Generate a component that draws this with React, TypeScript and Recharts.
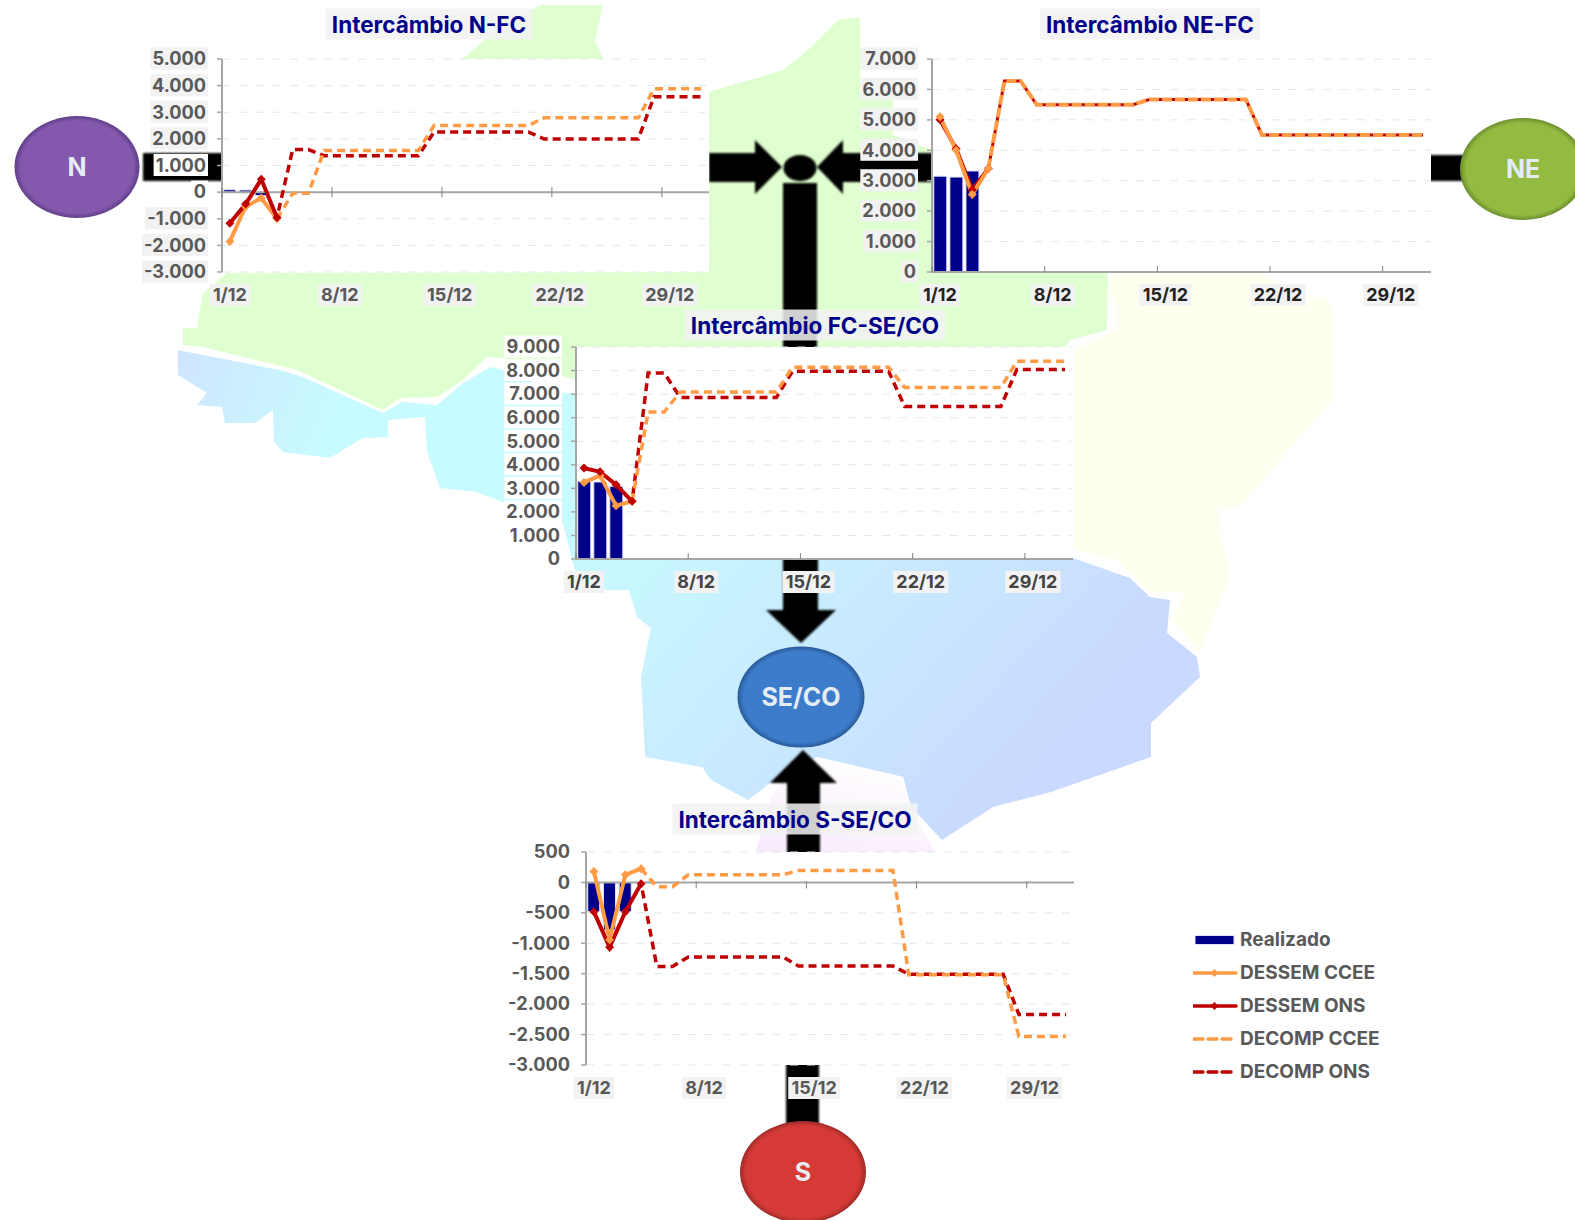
import { Bar, CartesianGrid, ComposedChart, Line, ReferenceLine, XAxis, YAxis } from "recharts"

const days = [
  "1/12", "2/12", "3/12", "4/12", "5/12", "6/12", "7/12", "8/12", "9/12", "10/12", "11/12",
  "12/12", "13/12", "14/12", "15/12", "16/12", "17/12", "18/12", "19/12", "20/12", "21/12",
  "22/12", "23/12", "24/12", "25/12", "26/12", "27/12", "28/12", "29/12", "30/12", "31/12",
]

const _ = null

// Intercambio N-FC
const nfcRealizado = [90, 80, -130]
const nfcDessemCcee = [-1850, -550, -220, -1000]
const nfcDessemOns = [-1170, -450, 480, -950]
const nfcDecompCcee = [_, _, _, -1000, -40, -40, 1560, 1560, 1560, 1560, 1560, 1560, 1560, 2500, 2500, 2500, 2500, 2500, 2500, 2500, 2790, 2790, 2790, 2790, 2790, 2790, 2790, 3880, 3880, 3880, 3880]
const nfcDecompOns = [_, _, _, -950, 1600, 1600, 1370, 1370, 1370, 1370, 1370, 1370, 1370, 2260, 2260, 2260, 2260, 2260, 2260, 2260, 2000, 2000, 2000, 2000, 2000, 2000, 2000, 3580, 3580, 3580, 3580]

// Intercambio NE-FC
const nefRealizado = [3150, 3120, 3320]
const nefDessemCcee = [5100, 4000, 2550, 3400]
const nefDessemOns = [5000, 4050, 2700, 3400]
const nefDecompCcee = [_, _, _, 3400, 6280, 6280, 5500, 5500, 5500, 5500, 5500, 5500, 5500, 5670, 5670, 5670, 5670, 5670, 5670, 5670, 4500, 4500, 4500, 4500, 4500, 4500, 4500, 4500, 4500, 4500, 4500]
const nefDecompOns = [_, _, _, 3400, 6280, 6280, 5500, 5500, 5500, 5500, 5500, 5500, 5500, 5670, 5670, 5670, 5670, 5670, 5670, 5670, 4500, 4500, 4500, 4500, 4500, 4500, 4500, 4500, 4500, 4500, 4500]

// Intercambio FC-SE/CO
const fcsRealizado = [3300, 3270, 3090]
const fcsDessemCcee = [3250, 3540, 2260, 2450]
const fcsDessemOns = [3860, 3700, 3150, 2450]
const fcsDecompCcee = [_, _, _, 2450, 6240, 6240, 7090, 7090, 7090, 7090, 7090, 7090, 7090, 8140, 8140, 8140, 8140, 8140, 8140, 8140, 7285, 7285, 7285, 7285, 7285, 7285, 7285, 8390, 8390, 8390, 8390]
const fcsDecompOns = [_, _, _, 2450, 7900, 7900, 6860, 6860, 6860, 6860, 6860, 6860, 6860, 7970, 7970, 7970, 7970, 7970, 7970, 7970, 6475, 6475, 6475, 6475, 6475, 6475, 6475, 8050, 8050, 8050, 8050]

// Intercambio S-SE/CO
const sseRealizado = [-480, -780, -480]
const sseDessemCcee = [180, -940, 125, 225]
const sseDessemOns = [-480, -1065, -480, -20]
const sseDecompCcee = [_, _, _, 225, -70, -70, 125, 125, 125, 125, 125, 125, 125, 195, 195, 195, 195, 195, 195, 195, -1515, -1515, -1515, -1515, -1515, -1515, -1515, -2530, -2530, -2530, -2530]
const sseDecompOns = [_, _, _, -20, -1380, -1380, -1225, -1225, -1225, -1225, -1225, -1225, -1225, -1375, -1375, -1375, -1375, -1375, -1375, -1375, -1508, -1508, -1508, -1508, -1508, -1508, -1508, -2170, -2170, -2170, -2170]

const NAVY = "#00008b"
const ORANGE = "#ff9a45"
const RED = "#c00000"
const GREY = "#595959"
const AXIS = "#a6a6a6"
const FONT = "Inter, sans-serif"
const PAD_TOP = 20

const rows = (r: any[], dc: any[], dn: any[], cc: any[], cn: any[]) =>
  days.map((day, i) => ({
    day,
    realizado: r[i] ?? null,
    dessemCcee: dc[i] ?? null,
    dessemOns: dn[i] ?? null,
    decompCcee: cc[i] ?? null,
    decompOns: cn[i] ?? null,
  }))

const fmt = (v: number) => String(v).replace(/(\d)(\d{3})$/, "$1.$2")

// rough label width, only used for the grey box behind each tick text
const labelWidth = (s: string) => {
  let w = 0
  for (const c of s) w += c === "." ? 5.5 : c === "/" ? 7.5 : c === "-" ? 8.5 : c === "1" ? 8.5 : 11.8
  return w
}

function Diamond(props: any) {
  const { cx, cy, fill, index } = props
  if (cx == null || cy == null) return <g key={index} />
  return <path key={index} d={`M${cx - 4.5} ${cy}L${cx} ${cy - 4.5}L${cx + 4.5} ${cy}L${cx} ${cy + 4.5}Z`} fill={fill} />
}

function Panel({ config }: { config: any }) {
  const { left, top, width, height, min, max, ticks, data, yBg, xColor, tickUp, tickDown, whiteLabels, cceeDash, cceeWidth, onsWidth, cceeOnTop } = config
  const zeroOffset = (height * (0 - min)) / (max - min)
  const step = width / days.length

  const xTick = (p: any) => {
    const w = labelWidth(p.payload.value) + 4
    const tx = p.x - step / 2
    const ty = p.y - zeroOffset
    return (
      <g>
        <line x1={tx} x2={tx} y1={ty - tickUp} y2={ty + tickDown} stroke="#808080" strokeWidth={1} />
        <rect x={p.x - w / 2} y={p.y + 12} width={w} height={22} fill="#f2f2f2" />
        <text x={p.x} y={p.y + 29} textAnchor="middle" fontFamily={FONT} fontSize={18} fontWeight={700} fill={xColor}>
          {p.payload.value}
        </text>
      </g>
    )
  }

  const yTick = (p: any) => {
    const s = fmt(p.payload.value)
    const w = labelWidth(s) + 5
    const bg = whiteLabels?.includes(p.payload.value) ? "#ffffff" : yBg
    return (
      <g>
        {bg && <rect x={p.x - w + 2} y={p.y - 11.5} width={w} height={22} fill={bg} />}
        <text x={p.x} y={p.y + 6.3} textAnchor="end" fontFamily={FONT} fontSize={18.2} fontWeight={700} fill={GREY}>
          {s}
        </text>
      </g>
    )
  }

  const dessemCcee = (
    <Line key="cc" dataKey="dessemCcee" stroke={ORANGE} strokeWidth={4} dot={<Diamond fill={ORANGE} />} isAnimationActive={false} type="linear" />
  )
  const dessemOns = (
    <Line key="co" dataKey="dessemOns" stroke={RED} strokeWidth={4} dot={<Diamond fill={RED} />} isAnimationActive={false} type="linear" />
  )

  return (
    <div style={{ position: "absolute", left: left - 90, top: top - PAD_TOP }}>
      <ComposedChart
        width={width + 100}
        height={height + PAD_TOP + 40}
        data={data}
        margin={{ top: PAD_TOP, right: 10, left: 0, bottom: 0 }}
        barCategoryGap="11%"
      >
        <CartesianGrid vertical={false} stroke="#dfe9e9" strokeDasharray="8 9" fill="#ffffff" fillOpacity={1} />
        <XAxis dataKey="day" interval={6} height={40} axisLine={false} tickLine={false} tickSize={0} tickMargin={0} tick={xTick} />
        <YAxis
          width={90}
          domain={[min, max]}
          ticks={ticks}
          interval={0}
          allowDataOverflow
          axisLine={{ stroke: AXIS, strokeWidth: 2 }}
          tickLine={{ stroke: AXIS, strokeWidth: 1.5 }}
          tickSize={5}
          tickMargin={11}
          tick={yTick}
        />
        <Bar dataKey="realizado" fill={NAVY} stroke="#dfe4f6" strokeWidth={1} isAnimationActive={false} />
        <ReferenceLine y={0} stroke={AXIS} strokeWidth={2} />
        {cceeOnTop ? dessemOns : dessemCcee}
        {cceeOnTop ? dessemCcee : dessemOns}
        <Line dataKey="decompOns" stroke={RED} strokeWidth={onsWidth} strokeDasharray="8 5" strokeDashoffset={6} dot={false} isAnimationActive={false} type="linear" />
        <Line dataKey="decompCcee" stroke={ORANGE} strokeWidth={cceeWidth} strokeDasharray={cceeDash} dot={false} isAnimationActive={false} type="linear" />
      </ComposedChart>
    </div>
  )
}

const tickRange = (from: number, to: number, by: number) => {
  const out: number[] = []
  for (let v = from; v <= to; v += by) out.push(v)
  return out
}

const panels = [
  {
    title: "Intercâmbio N-FC", titleX: 429, titleY: 24,
    left: 222, top: 59, width: 487, height: 213, min: -3000, max: 5000, ticks: tickRange(-3000, 5000, 1000),
    data: rows(nfcRealizado, nfcDessemCcee, nfcDessemOns, nfcDecompCcee, nfcDecompOns),
    yBg: "#f2f2f2", whiteLabels: [1000, 0], xColor: GREY, tickUp: 5, tickDown: 5,
    cceeDash: "8 5", cceeWidth: 3.5, onsWidth: 3.5, cceeOnTop: false,
  },
  {
    title: "Intercâmbio NE-FC", titleX: 1150, titleY: 24,
    left: 932, top: 59, width: 499, height: 213, min: 0, max: 7000, ticks: tickRange(0, 7000, 1000),
    data: rows(nefRealizado, nefDessemCcee, nefDessemOns, nefDecompCcee, nefDecompOns),
    yBg: "#f2f2f2", xColor: "#222222", tickUp: 6, tickDown: 0,
    cceeDash: "10 3", cceeWidth: 4, onsWidth: 3, cceeOnTop: true,
  },
  {
    title: "Intercâmbio FC-SE/CO", titleX: 815, titleY: 325,
    left: 576, top: 347, width: 497, height: 212, min: 0, max: 9000, ticks: tickRange(0, 9000, 1000),
    data: rows(fcsRealizado, fcsDessemCcee, fcsDessemOns, fcsDecompCcee, fcsDecompOns),
    yBg: "#ffffff", xColor: "#444444", tickUp: 6, tickDown: 0,
    cceeDash: "8 5", cceeWidth: 3.5, onsWidth: 3.5, cceeOnTop: false,
  },
  {
    title: "Intercâmbio S-SE/CO", titleX: 795, titleY: 819,
    left: 586, top: 852, width: 488, height: 213, min: -3000, max: 500, ticks: tickRange(-3000, 500, 500),
    data: rows(sseRealizado, sseDessemCcee, sseDessemOns, sseDecompCcee, sseDecompOns),
    yBg: null, xColor: GREY, tickUp: 1, tickDown: 6,
    cceeDash: "8 5", cceeWidth: 3.5, onsWidth: 3.5, cceeOnTop: true,
  },
]

const legendItems = [
  { name: "Realizado", kind: "bar", color: NAVY },
  { name: "DESSEM CCEE", kind: "line", color: ORANGE },
  { name: "DESSEM ONS", kind: "line", color: RED },
  { name: "DECOMP CCEE", kind: "dash", color: ORANGE },
  { name: "DECOMP ONS", kind: "dash", color: RED },
]

function Legend() {
  return (
    <div style={{ position: "absolute", left: 1193, top: 923 }}>
      {legendItems.map((it) => (
        <div key={it.name} style={{ display: "flex", alignItems: "center", height: 33 }}>
          <svg width={47} height={14}>
            {it.kind === "bar" && <rect x={2} y={2.5} width={39} height={9} fill={it.color} stroke="#dfe4f6" />}
            {it.kind === "line" && <line x1={0} x2={43} y1={7} y2={7} stroke={it.color} strokeWidth={3.5} strokeLinecap="round" />}
            {it.kind === "line" && <path d="M17.5 7L21.5 3L25.5 7L21.5 11Z" fill={it.color} />}
            {it.kind === "dash" && <line x1={1} x2={40} y1={7} y2={7} stroke={it.color} strokeWidth={3.5} strokeDasharray="9 5" strokeLinecap="round" />}
          </svg>
          <span style={{ fontFamily: FONT, fontSize: 19, fontWeight: 700, color: GREY, whiteSpace: "nowrap" }}>{it.name}</span>
        </div>
      ))}
    </div>
  )
}

const nodes = [
  { name: "N", cx: 77, cy: 167, rx: 62.5, ry: 51, inner: "#8458ad", outer: "#5f3e88" },
  { name: "NE", cx: 1523, cy: 169, rx: 63, ry: 51, inner: "#93bb42", outer: "#6d8d2d" },
  { name: "SE/CO", cx: 801, cy: 697, rx: 63.5, ry: 50.5, inner: "#3c7ccb", outer: "#2a5a98" },
  { name: "S", cx: 803, cy: 1172, rx: 63, ry: 51, inner: "#d63a36", outer: "#9f2b28" },
]

// map regions and flow arrows behind the charts
function Backdrop() {
  return (
    <svg width={1575} height={1220} style={{ position: "absolute", left: 0, top: 0 }}>
      <defs>
        <linearGradient id="westFill" gradientUnits="userSpaceOnUse" x1={180} y1={360} x2={330} y2={420}>
          <stop offset="0" stopColor="#cfe5ff" />
          <stop offset="1" stopColor="#c8fbff" />
        </linearGradient>
        <linearGradient id="southFill" gradientUnits="userSpaceOnUse" x1={650} y1={540} x2={980} y2={840}>
          <stop offset="0" stopColor="#c8f8ff" />
          <stop offset="1" stopColor="#c9d9ff" />
        </linearGradient>
        <linearGradient id="pinkFill" gradientUnits="userSpaceOnUse" x1={820} y1={760} x2={800} y2={850}>
          <stop offset="0" stopColor="#fffdff" />
          <stop offset="1" stopColor="#f8ecfc" />
        </linearGradient>
        {nodes.map((n) => (
          <radialGradient key={n.name} id={`node${n.name.replace("/", "")}`}>
            <stop offset="0.9" stopColor={n.inner} />
            <stop offset="1" stopColor={n.outer} />
          </radialGradient>
        ))}
        <filter id="soft" x="-10%" y="-10%" width="120%" height="120%">
          <feGaussianBlur stdDeviation="0.8" />
        </filter>
      </defs>

      <polygon fill="#dfffd0" points="462,59 490,35 540,5 603,5 595,40 603,59" />
      <polygon
        fill="#dfffd0"
        points="227,273 203,293 197,328 183,328 183,345 203,347 297,370 383,410 400,398 437,397 463,380 487,357 503,358 576,380 1065,347 1070,340 1107,330 1108,272 932,272 932,150 893,135 893,100 860,95 860,17 838,20 808,50 783,70 709,92 709,272"
      />
      <polygon
        fill="url(#westFill)"
        points="178,350 203,355 280,370 303,377 383,413 402,402 437,405 463,383 490,367 503,370 560,393 580,393 580,565 573,563 560,513 503,502 477,492 440,488 427,452 425,417 388,420 388,437 363,438 330,458 283,452 274,442 273,410 255,423 225,423 222,407 197,405 207,393 178,375"
      />
      <polygon
        fill="url(#southFill)"
        points="576,520 1070,520 1073,558 1130,578 1150,597 1170,600 1167,633 1197,657 1200,677 1151,723 1151,757 1051,792 993,807 942,840 911,807 903,777 817,757 770,783 748,800 711,780 702,767 645,757 641,677 651,628 637,617 629,590 580,590 573,563"
      />
      <polygon
        fill="#feffee"
        points="1074,350 1118,328 1112,293 1112,273 1260,273 1307,297 1327,297 1335,317 1335,397 1240,507 1217,508 1230,577 1200,653 1173,620 1185,593 1150,592 1117,560 1074,550"
      />
      <polygon fill="url(#pinkFill)" points="756,852 770,800 780,783 817,757 903,777 911,807 935,852" />

      <g fill="#000000" filter="url(#soft)">
        <rect x={143} y={153} width={90} height={28} />
        <polygon points="709,153 755,153 755,140 782,167 755,194 755,182 709,182" />
        <polygon points="940,153 843,153 843,140 817,167 843,194 843,182 940,182" />
        <rect x={1425} y={155} width={45} height={26} />
        <ellipse cx={800} cy={168} rx={16.5} ry={13} />
        <rect x={783} y={183} width={34} height={170} />
        <polygon points="783,555 818,555 818,610 836,610 801,643 766,610 783,610" />
        <polygon points="803,750 837,783 820,783 820,858 787,858 787,783 770,783" />
        <rect x={786} y={1060} width={33} height={70} />
      </g>

      {nodes.map((n) => (
        <g key={n.name}>
          <ellipse cx={n.cx} cy={n.cy} rx={n.rx} ry={n.ry} fill={`url(#node${n.name.replace("/", "")})`} />
          <text x={n.cx} y={n.cy + 9} textAnchor="middle" fontFamily={FONT} fontSize={25} fontWeight={700} fill="#e6ecf4">
            {n.name}
          </text>
        </g>
      ))}
    </svg>
  )
}

export default function App() {
  return (
    <div style={{ position: "absolute", left: 0, top: 0, width: 1575, height: 1220, overflow: "hidden", background: "#ffffff" }}>
      <Backdrop />
      {panels.map((p) => (
        <Panel key={p.title} config={p} />
      ))}
      {panels.map((p) => (
        <div
          key={p.title}
          style={{
            position: "absolute",
            left: p.titleX,
            top: p.titleY,
            transform: "translate(-50%, -50%)",
            padding: "2px 6px",
            background: "rgba(242,242,242,0.86)",
            color: NAVY,
            fontFamily: FONT,
            fontSize: 22.5,
            fontWeight: 700,
            whiteSpace: "nowrap",
            lineHeight: "27px",
          }}
        >
          {p.title}
        </div>
      ))}
      <Legend />
    </div>
  )
}
